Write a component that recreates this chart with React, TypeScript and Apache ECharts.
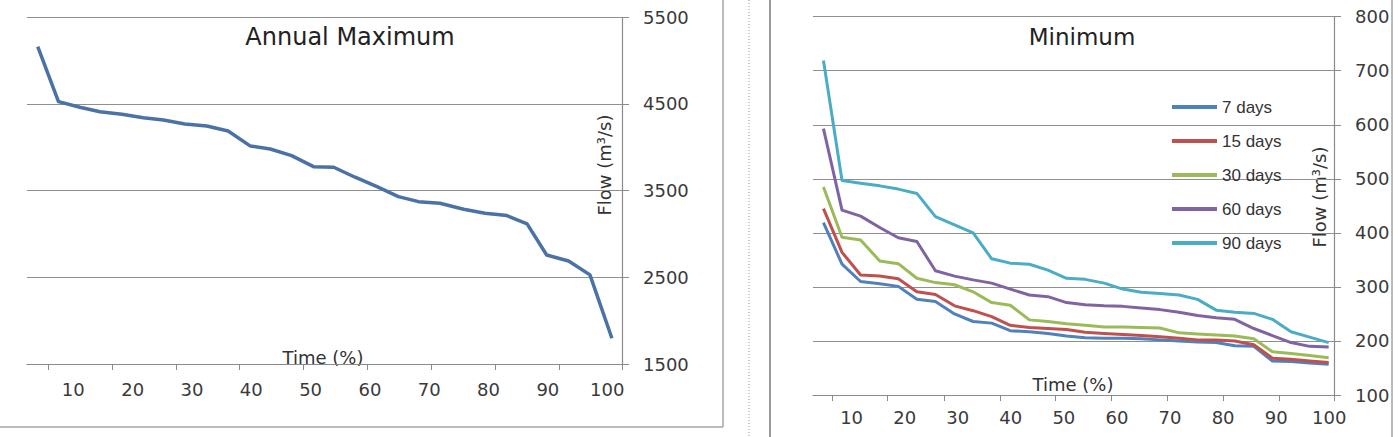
import React, { useEffect, useRef } from "react";
import * as echarts from "echarts";

// Exceedance time (%) of each ranked year, annual maximum flows
const maxTime = [4.0, 7.5, 11.1, 14.5, 18.2, 21.8, 25.2, 28.8, 32.5, 36.1, 39.8, 43.2, 46.8, 50.5, 53.9, 57.5, 61.2, 64.8, 68.2, 71.8, 75.8, 79.4, 83.1, 86.5, 89.8, 93.5, 97.1, 100.8];
const annualMax = [5161, 4527, 4462, 4411, 4381, 4342, 4315, 4269, 4246, 4189, 4016, 3981, 3904, 3777, 3770, 3655, 3546, 3431, 3373, 3355, 3285, 3239, 3212, 3116, 2758, 2689, 2528, 1797];

// Exceedance time (%) for the minimum-flow curves
const minTime = [4.7, 8.2, 11.7, 15.3, 18.8, 22.3, 25.8, 29.4, 32.9, 36.4, 39.9, 43.5, 47.0, 50.5, 54.0, 57.6, 61.1, 64.6, 68.1, 71.7, 75.2, 78.7, 82.2, 85.8, 89.3, 92.8, 96.3, 99.9];
const days7 = [419, 342, 310, 306, 301, 277, 273, 250, 236, 233, 219, 217, 214, 209, 206, 205, 205, 204, 202, 200, 198, 197, 191, 190, 163, 162, 159, 157];
const days15 = [445, 364, 322, 320, 315, 291, 286, 265, 256, 245, 229, 225, 223, 221, 216, 214, 212, 210, 208, 205, 202, 202, 200, 193, 168, 166, 163, 160];
const days30 = [485, 392, 387, 348, 343, 316, 308, 304, 291, 271, 266, 239, 236, 232, 229, 226, 226, 225, 224, 215, 213, 211, 209, 204, 180, 177, 173, 169];
const days60 = [593, 442, 431, 410, 391, 384, 330, 320, 313, 307, 296, 285, 282, 271, 267, 265, 264, 261, 258, 253, 247, 243, 240, 223, 210, 197, 190, 189];
const days90 = [719, 497, 492, 487, 481, 473, 430, 415, 400, 352, 344, 342, 331, 316, 314, 307, 296, 290, 288, 285, 277, 257, 253, 251, 240, 217, 207, 197];

const minSeries = [
  { name: "7 days", values: days7, color: "#4f81bd" },
  { name: "15 days", values: days15, color: "#c0504d" },
  { name: "30 days", values: days30, color: "#9bbb59" },
  { name: "60 days", values: days60, color: "#8064a2" },
  { name: "90 days", values: days90, color: "#4bacc6" },
];

// Axis ticks and labels
const timeLabels = [10, 20, 30, 40, 50, 60, 70, 80, 90, 100];
const maxTimeTicks = [5.8, 16.6, 27.3, 38.0, 48.8, 59.6, 70.3, 81.1, 91.9, 102.5];
const minTimeTicks = [6.4, 16.8, 27.4, 38.0, 48.4, 59.0, 69.4, 80.0, 90.6, 100.9];

const FONT = "'DejaVu Sans', Verdana, sans-serif";
const LEGEND_FONT = "'Liberation Sans Narrow', 'Liberation Sans', Arial, sans-serif";
const GRID_COLOR = "#8f8f8f";
const AXIS_COLOR = "#8a8a8a";
const LABEL_COLOR = "#3a3a3a";

const plain = (v: number) => String(v);

function xAxisFor(gridIndex: number, min: number, max: number, ticks: number[], margin: number) {
  return {
    gridIndex,
    type: "value",
    min,
    max,
    axisLine: { show: true, lineStyle: { color: AXIS_COLOR, width: 1.2 } },
    axisTick: { show: true, customValues: ticks, length: 6, lineStyle: { color: AXIS_COLOR } },
    axisLabel: {
      customValues: timeLabels,
      margin,
      formatter: plain,
      fontFamily: FONT,
      fontSize: 18,
      color: LABEL_COLOR,
    },
    splitLine: { show: false },
  };
}

function yAxisFor(gridIndex: number, min: number, max: number, interval: number) {
  return {
    gridIndex,
    type: "value",
    position: "right",
    min,
    max,
    interval,
    axisLine: { show: true, lineStyle: { color: AXIS_COLOR, width: 1.2 } },
    axisTick: { show: true, length: 7, lineStyle: { color: AXIS_COLOR } },
    axisLabel: { margin: 21, formatter: plain, fontFamily: FONT, fontSize: 18, color: LABEL_COLOR },
    splitLine: { show: true, lineStyle: { color: GRID_COLOR, width: 1.2 } },
  };
}

function axisTitle(text: string, x: number, y: number, rotated: boolean) {
  return {
    type: "text",
    x,
    y,
    rotation: rotated ? Math.PI / 2 : 0,
    style: {
      text,
      fontFamily: FONT,
      fontSize: 18,
      fill: "#333",
      align: "center",
      verticalAlign: "middle",
    },
  };
}

function frameLine(x1: number, y1: number, x2: number, y2: number, color: string, width: number, dash?: number[]) {
  return {
    type: "line",
    shape: { x1, y1, x2, y2 },
    style: { stroke: color, lineWidth: width, lineDash: dash },
    silent: true,
  };
}

export default function App() {
  const ref = useRef<HTMLDivElement>(null);

  useEffect(() => {
    if (!ref.current) return;
    const chart = echarts.init(ref.current, null, { renderer: "svg" });

    chart.setOption({
      animation: false,
      backgroundColor: "#ffffff",
      title: [
        {
          text: "Annual Maximum",
          left: 350,
          top: 25,
          textAlign: "center",
          padding: 0,
          textStyle: { fontFamily: FONT, fontSize: 24, fontWeight: "normal", color: "#222" },
        },
        {
          text: "Minimum",
          left: 1082,
          top: 25,
          textAlign: "center",
          padding: 0,
          textStyle: { fontFamily: FONT, fontSize: 23, fontWeight: "normal", color: "#222" },
        },
      ],
      legend: {
        orient: "vertical",
        left: 1172,
        top: 97,
        padding: 0,
        itemWidth: 45,
        itemHeight: 4,
        itemGap: 14,
        icon: "rect",
        textStyle: { fontFamily: LEGEND_FONT, fontSize: 17, color: "#333", lineHeight: 20 },
        data: minSeries.map((s) => s.name),
      },
      grid: [
        { left: 27, top: 17.3, width: 595, height: 346.7 },
        { left: 813, top: 16.7, width: 521, height: 378.3 },
      ],
      xAxis: [
        xAxisFor(0, 2.19, 102.5, maxTimeTicks, 16),
        xAxisFor(1, 2.73, 100.9, minTimeTicks, 13),
      ],
      yAxis: [yAxisFor(0, 1500, 5500, 1000), yAxisFor(1, 100, 800, 100)],
      series: [
        {
          name: "Annual Maximum",
          type: "line",
          xAxisIndex: 0,
          yAxisIndex: 0,
          symbol: "none",
          data: maxTime.map((t, i) => [t, annualMax[i]]),
          lineStyle: { color: "#4a72a6", width: 3.5, join: "round" },
          itemStyle: { color: "#4a72a6" },
        },
        ...minSeries.map((s) => ({
          name: s.name,
          type: "line",
          xAxisIndex: 1,
          yAxisIndex: 1,
          symbol: "none",
          data: minTime.map((t, i) => [t, s.values[i]]),
          lineStyle: { color: s.color, width: 3, join: "round" },
          itemStyle: { color: s.color },
        })),
      ],
      graphic: [
        axisTitle("Flow (m³/s)", 604, 165, true),
        axisTitle("Time (%)", 323, 357, false),
        axisTitle("Flow (m³/s)", 1319, 197, true),
        axisTitle("Time (%)", 1073, 384, false),
        // panel frames
        frameLine(0, 427, 723, 427, "#a6a6a6", 1.5),
        frameLine(723, 0, 723, 427, "#a6a6a6", 1.5),
        frameLine(749, 0, 749, 437, "#9a9a9a", 1, [1, 2]),
        frameLine(770, 0, 770, 437, "#9a9a9a", 2),
        frameLine(1392, 0, 1392, 437, "#a6a6a6", 1.5),
      ],
    });

    return () => chart.dispose();
  }, []);

  return (
    <div
      ref={ref}
      style={{ position: "fixed", left: 0, top: 0, width: 1398, height: 437, background: "#fff" }}
    />
  );
}
